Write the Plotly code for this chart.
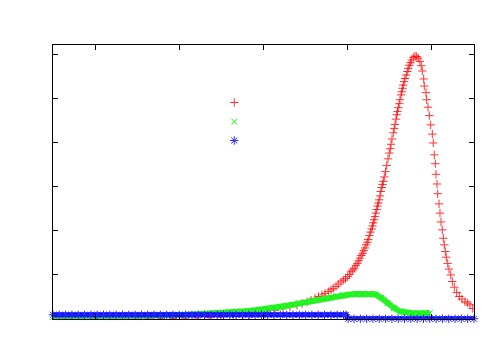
import plotly.graph_objects as go

# red (+) curve
red_x = [0, 2.85, 5.70, 8.55, 11.40, 14.25, 17.10, 19.95, 22.80, 25.65, 28.50, 31.35, 34.20, 37.05, 39.90, 42.76, 45.13,
         46.79, 48.69, 50.83, 52.73, 54.63, 56.29, 57.96, 59.14, 60.33, 61.28, 62.23, 63.06, 63.90, 64.61, 65.39, 66.03,
         66.58, 67.22, 67.77, 68.41, 68.96, 69.48, 70.00, 70.43, 70.78, 71.19, 71.57, 71.92, 72.28, 72.61, 72.92, 73.23,
         73.56, 73.82, 74.11, 74.39, 74.66, 74.89, 75.13, 75.42, 75.70, 75.89, 76.08, 76.29, 76.48, 76.67, 76.89, 77.08,
         77.27, 77.48, 77.67, 77.86, 78.08, 78.27, 78.46, 78.69, 78.98, 79.26, 79.57, 79.88, 80.10, 80.29, 80.52, 80.83,
         81.05, 81.24, 81.47, 81.64, 81.83, 82.02, 82.23, 82.42, 82.66, 82.82, 83.01, 83.21, 83.42, 83.61, 83.90, 84.16,
         84.39, 84.63, 84.92, 85.20, 85.58, 85.99, 86.39, 86.77, 87.17, 87.46, 87.72, 88.05, 88.19, 88.60, 88.76, 89.07,
         89.38, 89.71, 90.10, 90.33, 90.57, 90.81, 90.97, 91.21, 91.38, 91.69, 91.92, 92.16, 92.47, 92.71, 92.95, 93.18,
         93.42, 93.75, 94.06, 94.47, 94.85, 95.32, 95.89, 96.51, 97.15, 97.86, 98.50, 99.05, 99.69]
red_y = [0.0, 0.0, 0.0, 0.0, 0.0, 0.0, 0.02, 0.04, 0.06, 0.09, 0.12, 0.16, 0.22, 0.30, 0.42, 0.60, 0.85,
         1.0, 1.3, 1.6, 1.95, 2.3, 2.7, 3.1, 3.5, 3.9, 4.3, 4.7, 5.1, 5.45, 5.8, 6.2, 6.6,
         6.95, 7.4, 7.9, 8.4, 8.8, 9.2, 9.6, 10.1, 10.7, 11.1, 11.5, 12.1, 12.6, 13.2, 13.8, 14.4,
         14.9, 15.5, 16.1, 16.8, 17.4, 18.0, 18.9, 19.7, 20.4, 21.1, 21.8, 22.5, 23.2, 24.0, 24.8, 25.6,
         26.3, 27.0, 27.9, 28.9, 29.8, 30.5, 31.2, 32.2, 33.4, 34.8, 36.3, 37.6, 38.6, 39.6, 40.8, 42.2,
         43.2, 44.1, 45.3, 46.3, 47.0, 47.9, 48.8, 49.7, 50.8, 51.5, 52.3, 53.0, 53.8, 54.5, 55.3, 56.1,
         56.8, 57.5, 58.1, 58.7, 59.3, 59.6, 59.5, 59.1, 58.4, 57.4, 56.2, 54.4, 52.8, 51.3, 49.7, 48.0,
         46.1, 44.0, 41.9, 39.9, 37.2, 35.2, 32.8, 30.6, 28.4, 26.1, 24.0, 22.0, 20.2, 18.3, 16.8, 15.3,
         14.0, 12.6, 11.3, 10.0, 8.5, 7.2, 6.0, 5.1, 4.5, 3.9, 3.6, 3.2, 2.4]

# green (x) curve
green_x = [0, 1.5, 3, 4.5, 6, 7.5, 9, 10.5, 12, 13.5, 15, 16.5, 18, 19.5, 21, 22.5, 24, 25.5, 27, 28.5,
           30, 31.5, 33, 34.5, 36, 37.5, 39, 40.5, 42, 43.5, 45, 46.5, 48, 49.5, 51, 52.5, 54, 55.5, 57, 58.5,
           60, 61.5, 63, 64.5, 66, 67.5, 69, 70.5, 72, 73.5, 75, 76.5, 78, 79.5, 81, 82.5, 84, 85.5, 87, 88.5, 89.5]
green_y = [0.45, 0.46, 0.47, 0.48, 0.49, 0.50, 0.51, 0.53, 0.55, 0.57, 0.59, 0.61, 0.63, 0.65, 0.68, 0.71, 0.75, 0.79, 0.83, 0.88,
           0.93, 0.98, 1.04, 1.10, 1.17, 1.24, 1.32, 1.41, 1.50, 1.60, 1.71, 1.83, 1.97, 2.12, 2.30, 2.50, 2.75, 3.00, 3.26, 3.53,
           3.82, 4.12, 4.42, 4.72, 5.00, 5.24, 5.43, 5.56, 5.64, 5.68, 5.70, 5.60, 4.80, 3.60, 2.50, 1.70, 1.42, 1.33, 1.30, 1.30, 1.30]

# blue (*) curve
blue_x = [0, 1.5, 3, 4.5, 6, 7.5, 9, 10.5, 12, 13.5, 15, 16.5, 18, 19.5, 21, 22.5, 24, 25.5, 27, 28.5,
          30, 31.5, 33, 34.5, 36, 37.5, 39, 40.5, 42, 43.5, 45, 46.5, 48, 49.5, 51, 52.5, 54, 55.5, 57, 58.5,
          60, 61.5, 63, 64.5, 66, 67.5, 69, 69.6,
          70.1, 71.5, 73, 74.5, 76, 77.5, 79, 80.5, 82, 83.5, 85, 86.5, 88, 89.5, 91, 92.5, 94, 95.5, 97, 98.5, 100]
blue_y = [0.95, 0.95, 0.95, 0.95, 0.95, 0.95, 0.95, 0.95, 0.95, 0.95, 0.95, 0.95, 0.95, 0.95, 0.95, 0.95, 0.95, 0.95, 0.95, 0.95,
          0.95, 0.95, 0.95, 0.95, 0.95, 0.95, 0.95, 0.95, 0.95, 0.95, 0.95, 0.95, 0.95, 0.95, 0.95, 0.95, 0.95, 0.95, 0.95, 0.95,
          0.95, 0.95, 0.95, 0.95, 0.95, 0.95, 0.95, 0.95,
          0.05, 0.05, 0.05, 0.05, 0.05, 0.05, 0.05, 0.05, 0.05, 0.05, 0.05, 0.05, 0.05, 0.05, 0.05, 0.05, 0.05, 0.05, 0.05, 0.05, 0.05]

assert len(red_x) == len(red_y)
assert len(green_x) == len(green_y)
assert len(blue_x) == len(blue_y)

x_ticks = [10, 30, 50, 70, 90]
y_ticks = [0, 10, 20, 30, 40, 50, 60]

fig = go.Figure()
fig.add_trace(go.Scatter(x=red_x, y=red_y, mode='markers', name='', cliponaxis=True,
                         marker=dict(symbol='cross-thin', size=6, color='#ff0000', opacity=0.8,
                                     line=dict(width=1, color='#ff0000'))))
# dense point clouds read as solid bands, drawn under the markers
fig.add_trace(go.Scatter(x=green_x, y=green_y, mode='lines', showlegend=False, cliponaxis=False,
                         line=dict(width=6, color='#33ee33')))
fig.add_trace(go.Scatter(x=green_x, y=green_y, mode='markers', name='', cliponaxis=False,
                         marker=dict(symbol='x-thin', size=6, color='#00ff00',
                                     line=dict(width=1, color='#00ff00'))))
fig.add_trace(go.Scatter(x=blue_x, y=blue_y, mode='lines', showlegend=False, cliponaxis=False,
                         line=dict(width=5, color='#0000ff')))
fig.add_trace(go.Scatter(x=blue_x, y=blue_y, mode='markers', name='', cliponaxis=False,
                         marker=dict(symbol='asterisk', size=7, color='#0000ff',
                                     line=dict(width=1, color='#2a2aff'))))

axis_style = dict(showline=True, linecolor='black', linewidth=1, mirror='ticks', ticks='inside',
                  ticklen=5, tickcolor='black', showticklabels=False, showgrid=False, zeroline=False)
fig.update_xaxes(range=[0, 100], tickvals=x_ticks, **axis_style)
fig.update_yaxes(range=[0, 62.1], tickvals=y_ticks, **axis_style)

# the page body adds an 8px margin, so the figure is 8px smaller
fig.update_layout(width=492, height=342, margin=dict(l=45, r=26, t=37, b=31),
                  plot_bgcolor='white', paper_bgcolor='white',
                  font=dict(family='DejaVu Sans', size=10),
                  showlegend=True,
                  legend=dict(x=0.383, y=0.843, xanchor='left', yanchor='top', bgcolor='rgba(0,0,0,0)',
                              tracegroupgap=0, font=dict(size=10)))
fig.write_html("out.html")
